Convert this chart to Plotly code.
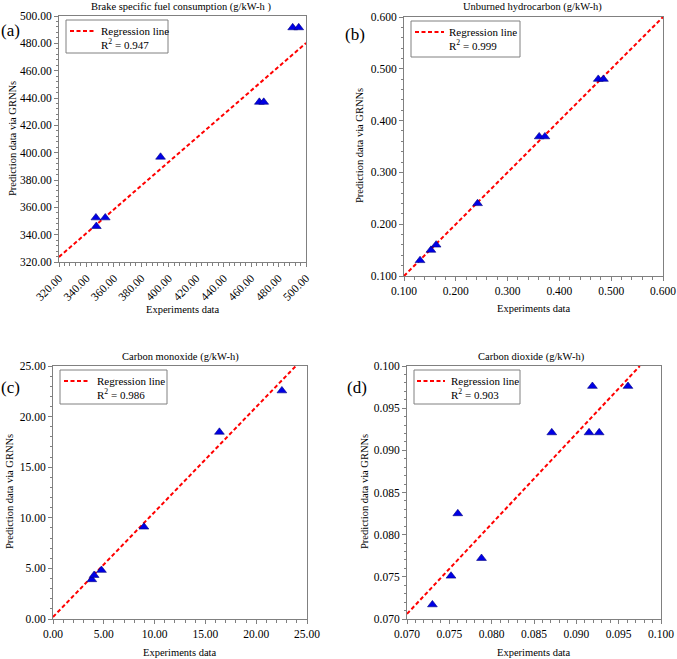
import plotly.graph_objects as go

# ---------------- data ----------------
titles = ["Brake specific fuel consumption (g/kW-h )", "Unburned hydrocarbon (g/kW-h)",
          "Carbon monoxide (g/kW-h)", "Carbon dioxide (g/kW-h)"]
panel_labels = ["(a)", "(b)", "(c)", "(d)"]
r2_values = ["0.947", "0.999", "0.986", "0.903"]

exp_a = [346.9, 347.2, 353.7, 394.0, 466.0, 469.2, 490.3, 494.7]
pred_a = [352.4, 346.1, 352.4, 396.8, 437.0, 437.0, 491.5, 491.5]
reg_a_x = [320, 500]
reg_a_y = [323.7, 480.2]

exp_b = [0.131, 0.152, 0.162, 0.242, 0.361, 0.372, 0.475, 0.485]
pred_b = [0.130, 0.150, 0.160, 0.240, 0.369, 0.369, 0.480, 0.480]
reg_b_x = [0.1, 0.6]
reg_b_y = [0.1, 0.6]

exp_c = [3.82, 4.05, 4.77, 8.95, 16.38, 22.53]
pred_c = [3.90, 4.32, 4.82, 9.10, 18.47, 22.56]
reg_c_x = [0.0, 23.9]
reg_c_y = [0.2, 25.0]

exp_d = [0.0730, 0.0752, 0.0760, 0.0788, 0.0871, 0.0915, 0.0927, 0.0919, 0.0961]
pred_d = [0.0717, 0.0751, 0.0825, 0.0772, 0.0921, 0.0921, 0.0921, 0.0976, 0.0976]
reg_d_x = [0.070, 0.0975]
reg_d_y = [0.0706, 0.100]

ranges = [(320, 500), (0.1, 0.6), (0, 25), (0.07, 0.1)]
dticks = [20, 0.1, 5, 0.005]
minor_dticks = [4, 0.02, 1, 0.001]
fmts = [".2f", ".3f", ".2f", ".3f"]

exps = [exp_a, exp_b, exp_c, exp_d]
preds = [pred_a, pred_b, pred_c, pred_d]
regx = [reg_a_x, reg_b_x, reg_c_x, reg_d_x]
regy = [reg_a_y, reg_b_y, reg_c_y, reg_d_y]

# ---------------- layout geometry (pixels) ----------------
W, H = 677, 659
boxes = [(59, 306, 16, 262), (404, 663, 17, 276), (53, 307, 366, 619), (407, 661, 366, 619)]
legend_boxes = [(66, 168, 20, 53), (411, 520, 21, 57), (60, 167, 370, 404), (414, 520, 370, 404)]
legend_sample = [(70, 96), (415, 444), (64, 90), (417, 445)]
legend_text_x = [99, 447, 95, 449]
legend_text_y = [(31, 44), (32, 45), (381, 394), (381, 394)]
title_pos = [(181, 7), (532, 7), (180, 357), (531, 357)]
xtitle_pos = [(183, 310), (534, 309), (180, 652), (534, 652)]
ytitle_pos = [(12, 139), (360, 146), (10, 492), (365, 492)]
plabel_pos = [(10, 31), (355, 35), (10, 387), (357, 387)]

FONT = "Liberation Serif, Times New Roman, serif"

def px_x(p):
    return p / W

def px_y(p):
    return 1 - p / H

fig = go.Figure()
layout = dict(width=W, height=H, margin=dict(l=0, r=0, t=0, b=0, autoexpand=False),
              paper_bgcolor="white", plot_bgcolor="white",
              font=dict(family=FONT, size=11, color="black"), showlegend=False)
annotations = []
shapes = []

for i in range(4):
    n = "" if i == 0 else str(i + 1)
    xa, ya = "x" + n, "y" + n
    fig.add_trace(go.Scatter(
        x=regx[i], y=regy[i], mode="lines", xaxis=xa, yaxis=ya,
        line=dict(color="#ff0000", width=2, dash="4px,2.5px"),
        name="Regression line", showlegend=False))
    fig.add_trace(go.Scatter(
        x=exps[i], y=preds[i], mode="markers", xaxis=xa, yaxis=ya,
        marker=dict(symbol="triangle-up", size=8.5, color="#0000e6",
                    line=dict(color="#000080", width=0.6)),
        showlegend=False))
    x0, x1, y0, y1 = boxes[i]
    axcommon = dict(showgrid=False, zeroline=False, showline=True, linecolor="#808080",
                    linewidth=1, mirror=True, ticks="outside", ticklen=4, tickcolor="#808080",
                    automargin=False,
                    tickfont=dict(family=FONT, size=11.5, color="black"),
                    minor=dict(ticks="outside", ticklen=2.5, tickcolor="#808080",
                               dtick=minor_dticks[i], showgrid=False),
                    dtick=dticks[i], tick0=ranges[i][0], tickformat=fmts[i],
                    range=list(ranges[i]))
    xaxis = dict(axcommon, domain=[px_x(x0), px_x(x1)], anchor=ya)
    if i == 0:
        xaxis["tickangle"] = -45
    yaxis = dict(axcommon, domain=[px_y(y1), px_y(y0)], anchor=xa)
    layout["xaxis" + n] = xaxis
    layout["yaxis" + n] = yaxis

    bx0, bx1, by0, by1 = legend_boxes[i]
    shapes.append(dict(type="rect", xref="paper", yref="paper",
                       x0=px_x(bx0), x1=px_x(bx1), y0=px_y(by1), y1=px_y(by0),
                       line=dict(color="#808080", width=1), fillcolor="white"))
    sx0, sx1 = legend_sample[i]
    ly1, ly2 = legend_text_y[i]
    shapes.append(dict(type="line", xref="paper", yref="paper",
                       x0=px_x(sx0), x1=px_x(sx1), y0=px_y(ly1), y1=px_y(ly1),
                       line=dict(color="#ff0000", width=2, dash="4px,2.5px")))
    annotations.append(dict(text="Regression line", x=px_x(legend_text_x[i]), y=px_y(ly1),
                            xref="paper", yref="paper", showarrow=False, xanchor="left",
                            yanchor="middle", font=dict(family=FONT, size=11)))
    annotations.append(dict(text="R<sup>2</sup> = " + r2_values[i], x=px_x(legend_text_x[i]),
                            y=px_y(ly2), xref="paper", yref="paper", showarrow=False,
                            xanchor="left", yanchor="middle", font=dict(family=FONT, size=11)))

    tx, ty = title_pos[i]
    annotations.append(dict(text=titles[i], x=px_x(tx), y=px_y(ty), xref="paper", yref="paper",
                            showarrow=False, xanchor="center", yanchor="middle",
                            font=dict(family=FONT, size=10.5)))
    tx, ty = xtitle_pos[i]
    annotations.append(dict(text="Experiments data", x=px_x(tx), y=px_y(ty), xref="paper",
                            yref="paper", showarrow=False, xanchor="center", yanchor="middle",
                            font=dict(family=FONT, size=10.5)))
    tx, ty = ytitle_pos[i]
    annotations.append(dict(text="Prediction data via GRNNs", x=px_x(tx), y=px_y(ty),
                            xref="paper", yref="paper", showarrow=False, textangle=-90,
                            xanchor="center", yanchor="middle", font=dict(family=FONT, size=10.5)))
    tx, ty = plabel_pos[i]
    annotations.append(dict(text=panel_labels[i], x=px_x(tx), y=px_y(ty), xref="paper",
                            yref="paper", showarrow=False, xanchor="center", yanchor="middle",
                            font=dict(family=FONT, size=17)))

layout["annotations"] = annotations
layout["shapes"] = shapes
fig.update_layout(**layout)
fig.write_html("out.html", config={"displayModeBar": False},
               post_script="document.body.style.margin='0px';")
